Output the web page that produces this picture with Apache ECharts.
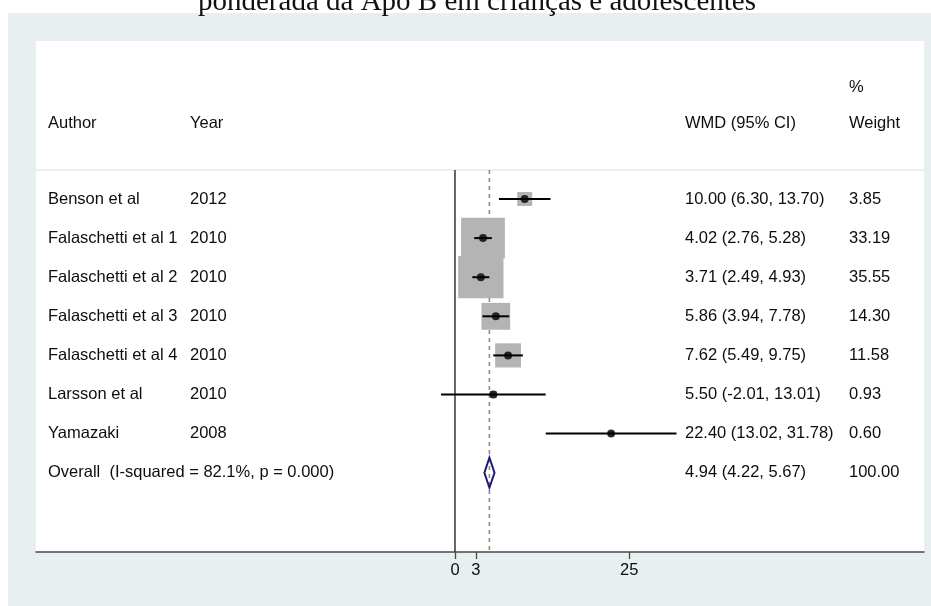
<!DOCTYPE html>
<html>
<head>
<meta charset="utf-8">
<script src="https://cdn.jsdelivr.net/npm/echarts@6/dist/echarts.min.js"></script>
<style>
  html, body { margin: 0; padding: 0; background: #ffffff; }
  #wrap { position: relative; width: 931px; height: 606px; overflow: hidden; }
  #panel { position: absolute; left: 8px; top: 13px; width: 923px; height: 593px; background: #e8eff1; }
  #chart { position: absolute; left: 0; top: 0; width: 931px; height: 606px; }
</style>
</head>
<body>
<div id="wrap"><div id="panel"></div><div id="chart"></div></div>
<script>
// ---- data ----
const titleText = 'ponderada da Apo B em crianças e adolescentes';
const authors = ['Benson et al', 'Falaschetti et al 1', 'Falaschetti et al 2', 'Falaschetti et al 3', 'Falaschetti et al 4', 'Larsson et al', 'Yamazaki'];
const years = ['2012', '2010', '2010', '2010', '2010', '2010', '2008'];
const wmd = [10.00, 4.02, 3.71, 5.86, 7.62, 5.50, 22.40];
const lower = [6.30, 2.76, 2.49, 3.94, 5.49, -2.01, 13.02];
const upper = [13.70, 5.28, 4.93, 7.78, 9.75, 13.01, 31.78];
const weights = [3.85, 33.19, 35.55, 14.30, 11.58, 0.93, 0.60];
const overallLabel = 'Overall  (I-squared = 82.1%, p = 0.000)';
const overallEst = 4.94, overallLo = 4.22, overallHi = 5.67, overallWeight = 100.00;
const xTicks = [0, 3, 25];
const headers = { author: 'Author', year: 'Year', wmd: 'WMD (95% CI)', pct: '%', weight: 'Weight' };

// ---- build ----
const fmt = v => v.toFixed(2);
const nRows = authors.length;
const overallRow = nRows;
const studyData = authors.map((a, i) => [i, wmd[i], lower[i], upper[i], weights[i]]);
const textRows = authors.map((a, i) => ({ value: [i], a: a, y: years[i], c: fmt(wmd[i]) + ' (' + fmt(lower[i]) + ', ' + fmt(upper[i]) + ')', w: fmt(weights[i]) }));
textRows.push({ value: [overallRow], a: overallLabel, y: '', c: fmt(overallEst) + ' (' + fmt(overallLo) + ', ' + fmt(overallHi) + ')', w: fmt(overallWeight) });

const X_MIN = -60.11, X_MAX = 67.29;
const Y_MIN = -4.041, Y_MAX = 9.028;
const LINE_TOP = -0.742;
const HDR_Y = -1.944, PCT_Y = -2.864;
const COL = { author: 48, year: 190, wmd: 685, weight: 849 };
const FONT = '"Liberation Sans", Arial, Helvetica, sans-serif';
const FS = 16.5;
const TXT = '#0d0d0d';

function txt(x, y, s) {
  return { type: 'text', style: { x: x, y: y, text: s, fill: TXT, font: FS + 'px ' + FONT, textAlign: 'left', textVerticalAlign: 'middle' } };
}

const chart = echarts.init(document.getElementById('chart'), null, { renderer: 'canvas' });
chart.setOption({
  backgroundColor: 'transparent',
  animation: false,
  graphic: [{
    type: 'text', x: 477, y: 17, z: 10,
    style: { text: titleText, fill: '#111', font: '29px "Liberation Serif", "Times New Roman", serif', textAlign: 'center', textVerticalAlign: 'bottom' }
  }],
  grid: { left: 36, top: 41, width: 888, height: 511, show: true, backgroundColor: '#ffffff', borderWidth: 0 },
  xAxis: {
    type: 'value', min: X_MIN, max: X_MAX, splitLine: { show: false },
    axisLine: { show: true, onZero: false, lineStyle: { color: '#4a4a4a', width: 1.6 } },
    axisTick: { show: true, customValues: xTicks, length: 7, lineStyle: { color: '#4a4a4a', width: 1.3 } },
    axisLabel: { show: true, customValues: xTicks, margin: 10, fontSize: FS, color: TXT, fontFamily: FONT }
  },
  yAxis: { type: 'value', min: Y_MIN, max: Y_MAX, inverse: true, show: false, splitLine: { show: false } },
  series: [
    { // reference lines (null line, overall dashed line, faint top rule)
      type: 'custom', z: 1, silent: true,
      data: [[0]],
      renderItem: function (params, api) {
        const t0 = api.coord([0, LINE_TOP]), b0 = api.coord([0, Y_MAX]);
        const t1 = api.coord([overallEst, LINE_TOP]), b1 = api.coord([overallEst, Y_MAX]);
        const l = api.coord([X_MIN, LINE_TOP]), r = api.coord([X_MAX, LINE_TOP]);
        return { type: 'group', children: [
          { type: 'line', shape: { x1: l[0], y1: l[1], x2: r[0], y2: r[1] }, style: { stroke: '#dedede', lineWidth: 1 } },
          { type: 'line', shape: { x1: t0[0], y1: t0[1], x2: b0[0], y2: b0[1] }, style: { stroke: '#333333', lineWidth: 1.5 } },
          { type: 'line', shape: { x1: t1[0], y1: t1[1], x2: b1[0], y2: b1[1] }, style: { stroke: '#a08585', lineWidth: 1.6, lineDash: [4, 4] } }
        ] };
      }
    },
    { // weight boxes
      type: 'custom', z: 2, silent: true,
      data: studyData,
      renderItem: function (params, api) {
        const p = api.coord([api.value(1), api.value(0)]);
        const s = Math.sqrt(api.value(4));
        const w = 7.6 * s, h = 7.1 * s;
        return { type: 'rect', shape: { x: p[0] - w / 2, y: p[1] - h / 2, width: w, height: h }, style: { fill: '#b4b4b4' } };
      }
    },
    { // confidence intervals
      type: 'custom', z: 3, silent: true,
      data: studyData,
      renderItem: function (params, api) {
        const a = api.coord([api.value(2), api.value(0)]);
        const b = api.coord([api.value(3), api.value(0)]);
        return { type: 'line', shape: { x1: a[0], y1: a[1], x2: b[0], y2: b[1] }, style: { stroke: '#000', lineWidth: 2 } };
      }
    },
    { // point estimates
      type: 'scatter', z: 4, silent: true,
      data: studyData.map(d => [d[1], d[0]]),
      symbol: 'circle', symbolSize: 8,
      itemStyle: { color: '#000' }
    },
    { // overall diamond
      type: 'custom', z: 4, silent: true,
      data: [[overallRow, overallEst, overallLo, overallHi]],
      renderItem: function (params, api) {
        const row = api.value(0);
        const c = api.coord([api.value(1), row]);
        const lo = api.coord([api.value(2), row]);
        const hi = api.coord([api.value(3), row]);
        const h = 15;
        return { type: 'polygon', shape: { points: [[lo[0], c[1]], [c[0], c[1] - h], [hi[0], c[1]], [c[0], c[1] + h]] }, style: { fill: 'none', stroke: '#1c1c74', lineWidth: 2 } };
      }
    },
    { // text columns
      type: 'custom', z: 5, silent: true,
      data: textRows,
      renderItem: function (params, api) {
        const r = textRows[params.dataIndex];
        const y = api.coord([0, api.value(0)])[1];
        const ch = [txt(COL.author, y, r.a), txt(COL.wmd, y, r.c), txt(COL.weight, y, r.w)];
        if (r.y) ch.push(txt(COL.year, y, r.y));
        if (params.dataIndex === 0) {
          const hy = api.coord([0, HDR_Y])[1], py = api.coord([0, PCT_Y])[1];
          ch.push(txt(COL.author, hy, headers.author), txt(COL.year, hy, headers.year), txt(COL.wmd, hy, headers.wmd), txt(COL.weight, hy, headers.weight), txt(COL.weight, py, headers.pct));
        }
        return { type: 'group', children: ch };
      }
    }
  ]
});
</script>
</body>
</html>
